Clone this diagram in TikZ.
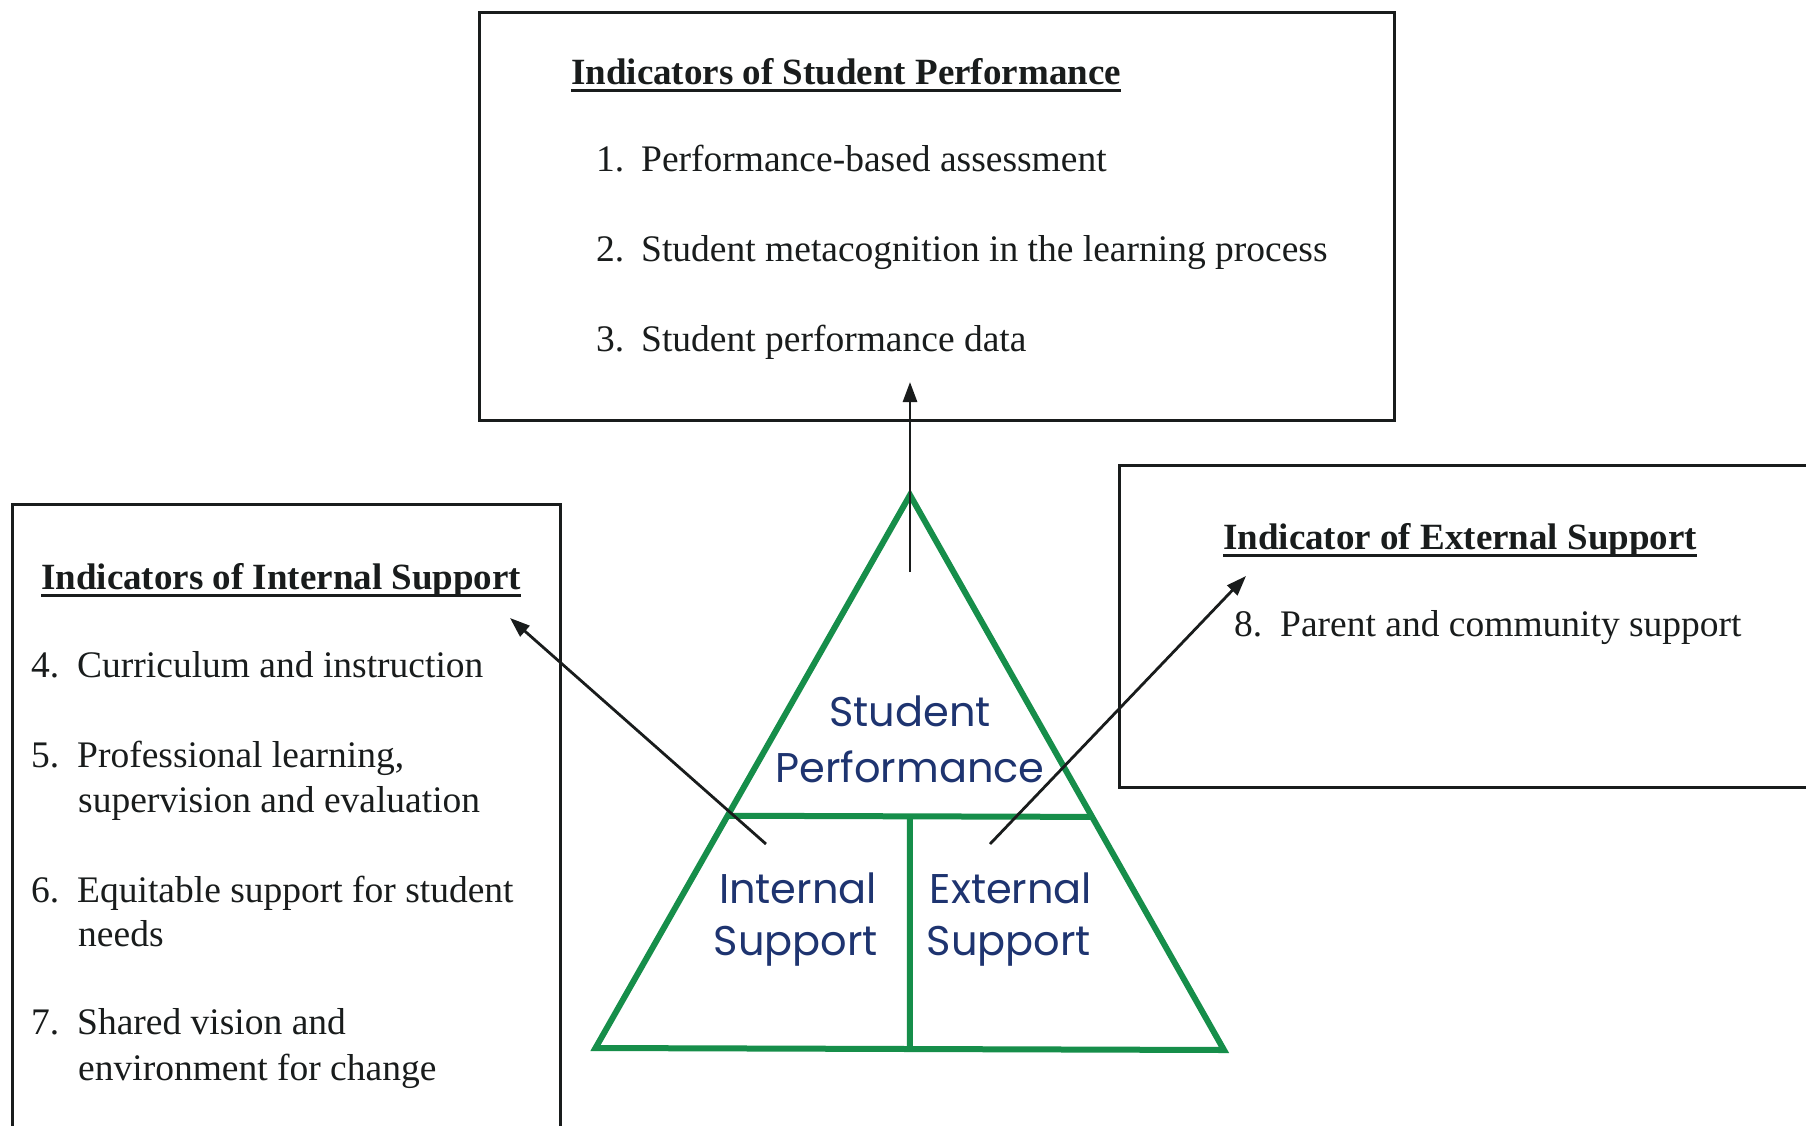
\documentclass[tikz,border=0pt]{standalone}
\usepackage{fontspec}
\setmainfont{Liberation Serif}
\newfontfamily\gothicfont{Poppins}
\usetikzlibrary{arrows.meta,calc}
\definecolor{pyrgreen}{RGB}{22,142,74}
\definecolor{pyrblue}{RGB}{30,52,112}
\definecolor{ink}{RGB}{25,28,28}

\begin{document}
\begin{tikzpicture}[x=1pt,y=-1pt,
  panel/.style={draw=ink,line width=2.8pt,anchor=north west,inner sep=0pt},
  heading/.style={anchor=base west,inner sep=0pt,text=ink,font=\fontsize{37}{45}\selectfont\bfseries},
  item/.style={anchor=base west,inner sep=0pt,text=ink,font=\fontsize{37.5}{45}\selectfont},
  tri/.style={draw=pyrgreen,line width=6pt},
  tritext/.style={text=pyrblue,font=\fontsize{41.5}{54}\selectfont\gothicfont,inner sep=0pt},
  link/.style={draw=ink,line width=2.8pt,-{Triangle[length=20pt,width=14pt]}},
  uline/.style={draw=ink,line width=3pt}
]
\useasboundingbox (0,0) rectangle (1806,1125);
\clip (0,0) rectangle (1806,1125);
\fill[white] (0,0) rectangle (1806,1125);

% ---- panels ----
\node[panel,minimum width=915pt,minimum height=408pt] (perfbox) at (478,11) {};
\node[panel,minimum width=548pt,minimum height=700pt] (intbox) at (11,503) {};
\node[panel,minimum width=760pt,minimum height=322pt] (extbox) at (1118,464) {};

% ---- student performance panel ----
\node[heading] (perfhead) at (571,84) {Indicators of Student Performance};
\draw[uline] ([yshift=-6pt]perfhead.base west) -- ([yshift=-6pt]perfhead.base east);
\node[item] (n1) at (596,171) {1.};
\node[item] (i1) at (641,171) {Performance-based assessment};
\node[item] (n2) at (596,261) {2.};
\node[item] (i2) at (641,261) {Student metacognition in the learning process};
\node[item] (n3) at (596,351) {3.};
\node[item] (i3) at (641,351) {Student performance data};

% ---- internal support panel ----
\node[heading] (inthead) at (41,589) {Indicators of Internal Support};
\draw[uline] ([yshift=-6pt]inthead.base west) -- ([yshift=-6pt]inthead.base east);
\node[item] (n4) at (31,677) {4.};
\node[item] (i4) at (77,677) {Curriculum and instruction};
\node[item] (n5) at (31,767) {5.};
\node[item] (i5a) at (77,767) {Professional learning,};
\node[item] (i5b) at (78,812) {supervision and evaluation};
\node[item] (n6) at (31,902) {6.};
\node[item] (i6a) at (77,902) {Equitable support for student};
\node[item] (i6b) at (78,946) {needs};
\node[item] (n7) at (31,1034) {7.};
\node[item] (i7a) at (77,1034) {Shared vision and};
\node[item] (i7b) at (78,1080) {environment for change};

% ---- external support panel ----
\node[heading] (exthead) at (1223,549) {Indicator of External Support};
\draw[uline] ([yshift=-6pt]exthead.base west) -- ([yshift=-6pt]exthead.base east);
\node[item] (n8) at (1234,636) {8.};
\node[item] (i8) at (1280,636) {Parent and community support};

% ---- pyramid ----
\coordinate (apex) at (910,495);
\coordinate (bl) at (595.5,1048);
\coordinate (br) at (1224,1050);
\coordinate (dl) at ($(apex)!0.58!(bl)$);
\coordinate (dr) at ($(apex)!0.58!(br)$);
\coordinate (dm) at ($(dl)!0.5!(dr)$);
\coordinate (bm) at ($(bl)!0.5!(br)$);
\draw[tri,line join=miter] (apex) -- (bl) -- (br) -- cycle;
\draw[tri] (dl) -- (dr);
\draw[tri] (dm) -- (bm);

\node[tritext] (sp1) at (910,711) {Student};
\node[tritext] (sp2) at (910,767) {Performance};
\node[tritext] (is1) at (798,888) {Internal};
\node[tritext] (is2) at (796,946) {Support};
\node[tritext] (es1) at (1011,888) {External};
\node[tritext] (es2) at (1009,946) {Support};

% ---- connectors ----
\coordinate (upfoot) at (910,572);
\coordinate (uptip) at (910,382);
\coordinate (lfoot) at (766,844);
\coordinate (ltip) at (510,618);
\coordinate (rfoot) at (990,844);
\coordinate (rtip) at (1246,576);
\draw[link] (upfoot) -- (uptip);
\draw[link] (lfoot) -- (ltip);
\draw[link] (rfoot) -- (rtip);
\end{tikzpicture}
\end{document}
